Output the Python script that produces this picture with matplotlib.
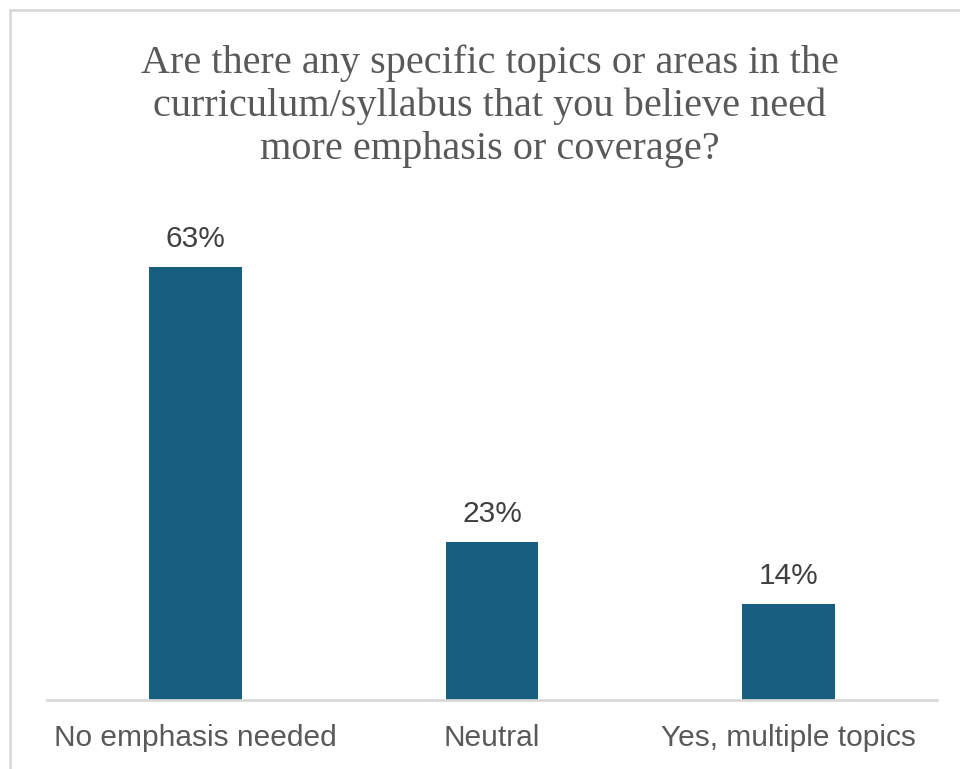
import matplotlib
matplotlib.use("Agg")
import matplotlib.pyplot as plt
from matplotlib.patches import Rectangle

categories = ["No emphasis needed", "Neutral", "Yes, multiple topics"]
values = [63, 23, 14]
labels = ["63%", "23%", "14%"]
title = "Are there any specific topics or areas in the\ncurriculum/syllabus that you believe need\nmore emphasis or coverage?"

W, H = 960, 769
fig = plt.figure(figsize=(W / 100, H / 100), dpi=100)
fig.patch.set_facecolor("white")

# outer chart border (cut off at right and bottom)
fig.patches.append(Rectangle((10 / W, -0.05), 1.2, 1 - 10 / H + 0.05, transform=fig.transFigure,
                             fill=False, edgecolor="#D9D9D9", linewidth=2, zorder=0))

ax = fig.add_axes([47 / W, 1 - 700 / H, 890 / W, 481 / H])
x = list(range(len(categories)))
ax.bar(x, values, width=0.313, color="#175E80", zorder=2)
ax.set_xlim(-0.5, len(categories) - 0.5)
ax.set_ylim(0, 70)
for xi, v, l in zip(x, values, labels):
    ax.annotate(l, (xi, v), xytext=(0, 10), textcoords="offset points", ha="center", va="bottom",
                fontsize=21.5, color="#404040", family="Liberation Sans")
ax.set_xticks(x)
ax.set_xticklabels(categories, fontsize=21.5, color="#595959", family="Liberation Sans")
ax.tick_params(axis="x", length=0, pad=17)
ax.set_yticks([])
for s in ["top", "right", "left"]:
    ax.spines[s].set_visible(False)
ax.spines["bottom"].set_color("#D9D9D9")
ax.spines["bottom"].set_linewidth(2)

fig.text(490 / W, 1 - 106 / H, title, ha="center", va="center", fontsize=29, color="#595959",
         family="Liberation Serif", linespacing=1.2)

fig.savefig("out.png", dpi=100)
